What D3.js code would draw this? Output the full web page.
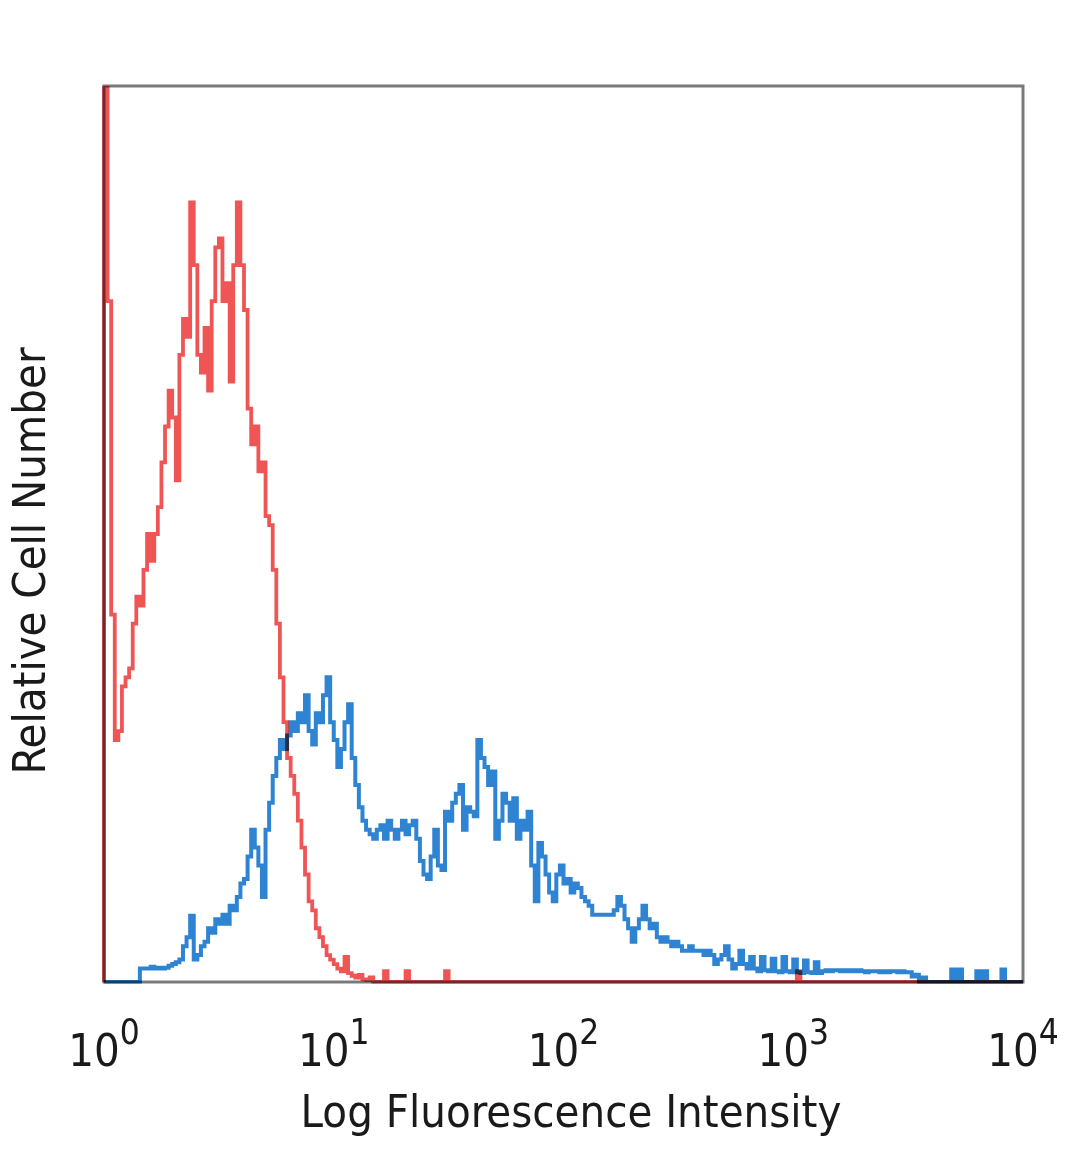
<!DOCTYPE html>
<html>
<head>
<meta charset="utf-8">
<script src="https://cdn.jsdelivr.net/npm/d3@7"></script>
<style>
  html, body { margin: 0; padding: 0; background: #ffffff; }
  svg { display: block; }
</style>
</head>
<body>
<div id="chart"></div>
<script>
// ---- data ----
const decadeExponents = [0, 1, 2, 3, 4];
const xTitle = "Log Fluorescence Intensity";
const yTitle = "Relative Cell Number";
const channelsPerDecade = 64;

// Isotype control (red), 256 log channels
const controlCounts = [
  100, 76, 41, 27, 28, 33, 34, 35, 40, 43,
  42, 46, 50, 47, 50, 53, 58, 62, 66, 63,
  56, 70, 74, 72, 87, 80, 70, 68, 73, 66,
  76, 82, 83, 76, 78, 67, 80, 87, 80, 75,
  64, 60, 62, 57, 58, 52, 51, 46, 40, 34,
  29, 25, 23, 21, 18, 15, 12, 9, 8, 6,
  5, 4, 3, 2.5, 2, 1.5, 1.2, 2.8, 1, 0.7,
  0.5, 0.8, 0.3, 0.2, 0.5, 0, 0, 0, 1.2, 0,
  0, 0, 0, 0, 1.2, 0, 0, 0, 0, 0,
  0, 0, 0, 0, 0, 1.2, 0, 0, 0, 0,
  0, 0, 0, 0, 0, 0, 0, 0, 0, 0,
  0, 0, 0, 0, 0, 0, 0, 0, 0, 0,
  0, 0, 0, 0, 0, 0, 0, 0, 0, 0,
  0, 0, 0, 0, 0, 0, 0, 0, 0, 0,
  0, 0, 0, 0, 0, 0, 0, 0, 0, 0,
  0, 0, 0, 0, 0, 0, 0, 0, 0, 0,
  0, 0, 0, 0, 0, 0, 0, 0, 0, 0,
  0, 0, 0, 0, 0, 0, 0, 0, 0, 0,
  0, 0, 0, 0, 0, 0, 0, 0, 0, 0,
  0, 0, 0, 1.2, 0, 0, 0, 0, 0, 0,
  0, 0, 0, 0, 0, 0, 0, 0, 0, 0,
  0, 0, 0, 0, 0, 0, 0, 0, 0, 0,
  0, 0, 0, 0, 0, 0, 0, 0, 0, 0,
  0, 0, 0, 0, 0, 0, 0, 0, 0, 0,
  0, 0, 0, 0, 0, 0, 0, 0, 0, 0,
  0, 0, 0, 0, 0, 0
];

// Stained sample (blue), 256 log channels
const stainedCounts = [
  0, 0, 0, 0, 0, 0, 0, 0, 0, 0,
  1.5, 1.5, 1.5, 1.7, 1.5, 1.6, 1.5, 1.6, 1.8, 2,
  2.2, 2.5, 4, 5, 7.4, 2.5, 3, 4, 4.5, 6,
  5.5, 7, 6.5, 7.5, 6.5, 8.5, 8, 9.5, 11, 11.5,
  14, 17, 15, 13, 9.5, 17, 20, 23, 25, 27,
  26, 27.5, 29, 28, 30, 29, 32, 28, 26.5, 30,
  29, 32, 34, 29, 27, 24, 26, 29, 31, 25,
  22, 19.5, 18, 17, 16.5, 16, 17, 17.5, 16, 18,
  17, 16, 17, 18, 16.5, 17.5, 18, 16, 13.5, 12,
  11.5, 14, 17, 13, 12.5, 19, 18, 20, 21, 22,
  17, 19.5, 19, 18.5, 27, 25, 24, 22, 23.5, 16,
  18, 21, 20, 18, 20.5, 16, 18, 17, 19, 13,
  9, 15.5, 14, 12, 10, 9, 12, 13, 11, 11.5,
  10, 11, 10.5, 9.5, 9, 8.5, 7.5, 7.5, 7.5, 7.5,
  7.5, 7.5, 8, 9.5, 8.5, 7, 6, 4.5, 6, 7,
  8.5, 7, 6, 6.5, 5, 4.5, 5, 4.5, 4, 4.5,
  4, 3.5, 3.5, 4, 3.5, 3.5, 3.5, 3, 3.5, 3,
  2, 2.5, 3, 4, 2.5, 1.5, 2, 3.5, 2, 1.5,
  2.8, 1.5, 1.2, 2.8, 1.3, 1.2, 2.6, 1.2, 1.1, 2.8,
  1.2, 1.1, 2.5, 1.1, 1.0, 2.4, 1.1, 1.0, 2.2, 1.0,
  1.2, 1.3, 1.2, 1.3, 1.3, 1.2, 1.3, 1.2, 1.3, 1.2,
  1.3, 1.2, 1.1, 1.2, 1.2, 1.2, 1.1, 1.2, 1.1, 1.2,
  1.2, 1.1, 1.2, 1.1, 1.1, 0.6, 0.8, 0, 0.5, 0,
  0, 0, 0, 0, 0, 0, 1.4, 0, 1.4, 0,
  0, 0, 0, 1.2, 0, 1.2, 0, 0, 0, 0,
  1.4, 0, 0, 0, 0, 0
];

// ---- layout ----
const W = 1080, H = 1169;
const plot = { left: 104, right: 1023, top: 86, bottom: 982 };

const svg = d3.select("#chart").append("svg")
  .attr("width", W).attr("height", H);

const x = d3.scaleLog()
  .domain([1, 10000])
  .range([plot.left, plot.right]);
const y = d3.scaleLinear()
  .domain([0, 100])
  .range([plot.bottom, plot.top]);

function toSteps(counts) {
  const pts = [{ edge: 1, v: 0 }];
  counts.forEach((v, i) => pts.push({ edge: Math.pow(10, i / channelsPerDecade), v }));
  pts.push({ edge: Math.pow(10, counts.length / channelsPerDecade), v: counts[counts.length - 1] });
  return pts;
}

const line = d3.line()
  .x(d => x(d.edge))
  .y(d => y(Math.min(d.v, 100)))
  .curve(d3.curveStepAfter);

svg.append("defs").append("clipPath").attr("id", "clip")
  .append("rect")
  .attr("x", plot.left - 2).attr("y", plot.top)
  .attr("width", plot.right - plot.left + 2).attr("height", plot.bottom - plot.top + 1.5);

// frame
svg.append("rect")
  .attr("x", plot.left).attr("y", plot.top)
  .attr("width", plot.right - plot.left).attr("height", plot.bottom - plot.top)
  .attr("fill", "none").attr("stroke", "#7a7a7a").attr("stroke-width", 3);

svg.append("path")
  .datum(toSteps(controlCounts))
  .attr("d", line)
  .attr("clip-path", "url(#clip)")
  .attr("fill", "none")
  .attr("stroke", "#ef5555")
  .attr("stroke-width", 3.8)
  .style("mix-blend-mode", "multiply");

svg.append("path")
  .datum(toSteps(stainedCounts))
  .attr("d", line)
  .attr("clip-path", "url(#clip)")
  .attr("fill", "none")
  .attr("stroke", "#2e84d2")
  .attr("stroke-width", 4)
  .style("mix-blend-mode", "multiply");

// x tick labels
const fontFam = "'DejaVu Sans Condensed', 'DejaVu Sans', sans-serif";
const ticks = svg.append("g");
decadeExponents.forEach(e => {
  const t = ticks.append("text")
    .attr("x", x(Math.pow(10, e)))
    .attr("y", 1066)
    .attr("text-anchor", "middle")
    .attr("font-family", fontFam)
    .style("font-stretch", "condensed")
    .attr("font-size", 45)
    .attr("fill", "#1a1a1a");
  t.append("tspan").text("10");
  t.append("tspan").attr("font-size", 35).attr("dy", -22).text(String(e));
});

// axis titles
svg.append("text")
  .attr("x", 571).attr("y", 1127)
  .attr("text-anchor", "middle")
  .attr("font-family", fontFam)
  .style("font-stretch", "condensed")
  .attr("font-size", 45)
  .attr("fill", "#1a1a1a")
  .text(xTitle);

svg.append("text")
  .attr("transform", "translate(45,561) rotate(-90)")
  .attr("text-anchor", "middle")
  .attr("font-family", fontFam)
  .style("font-stretch", "condensed")
  .attr("font-size", 45)
  .attr("fill", "#1a1a1a")
  .text(yTitle);
</script>
</body>
</html>
